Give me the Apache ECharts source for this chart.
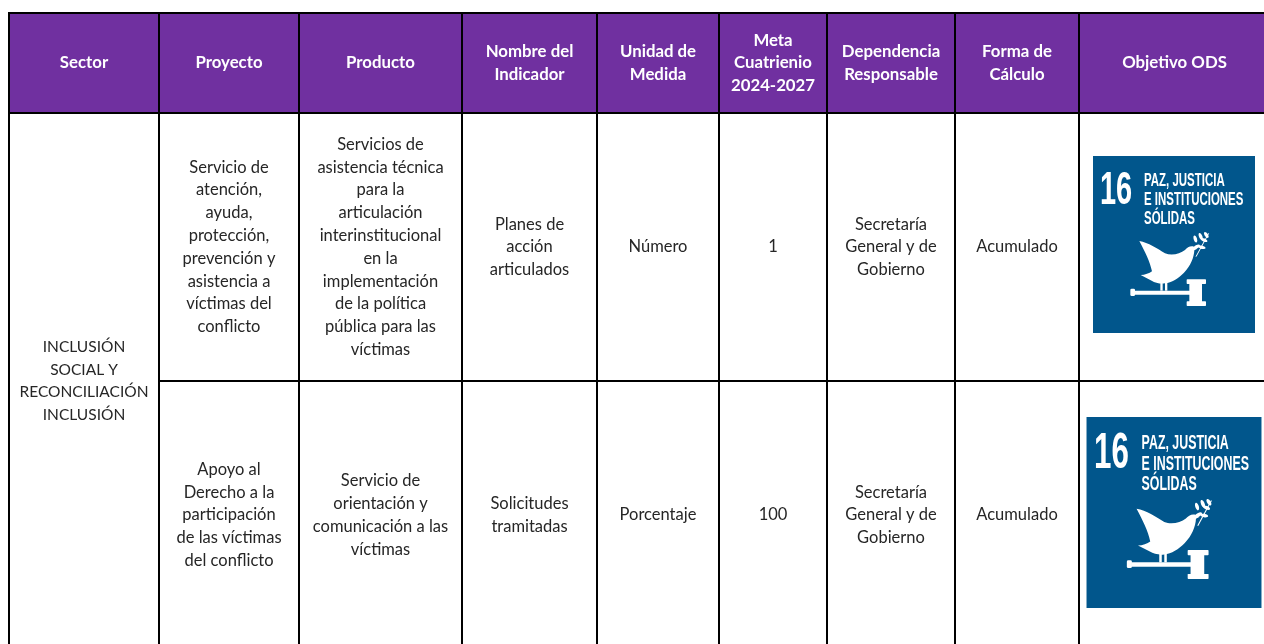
<!DOCTYPE html>
<html><head><meta charset="utf-8">
<style>html,body{margin:0;padding:0;background:#fff}#c{width:1264px;height:644px}</style>
<script src="https://cdn.jsdelivr.net/npm/echarts@6/dist/echarts.min.js"></script>
</head><body><div id="c"></div>
<script>
const columns = ['Sector','Proyecto','Producto','Nombre del\nIndicador','Unidad de\nMedida','Meta\nCuatrienio\n2024-2027','Dependencia\nResponsable','Forma de\nCálculo','Objetivo ODS'];
const rows = ['fila1','fila2'];
const sector = 'INCLUSIÓN\nSOCIAL Y\nRECONCILIACIÓN\nINCLUSIÓN';
const proyectos = ['Servicio de\natención,\nayuda,\nprotección,\nprevención y\nasistencia a\nvíctimas del\nconflicto','Apoyo al\nDerecho a la\nparticipación\nde las víctimas\ndel conflicto'];
const productos = ['Servicios de\nasistencia técnica\npara la\narticulación\ninterinstitucional\nen la\nimplementación\nde la política\npública para las\nvíctimas','Servicio de\norientación y\ncomunicación a las\nvíctimas'];
const indicadores = ['Planes de\nacción\narticulados','Solicitudes\ntramitadas'];
const unidades = ['Número','Porcentaje'];
const metas = ['1','100'];
const dependencias = ['Secretaría\nGeneral y de\nGobierno','Secretaría\nGeneral y de\nGobierno'];
const formas = ['Acumulado','Acumulado'];
const odsTitle = ['PAZ, JUSTICIA','E INSTITUCIONES','SÓLIDAS'];
const odsNumber = '16';

const colSizes = [150,140,163,135,122,108,128,124,191];
const FONT = 'Lato';
const el = echarts.init(document.getElementById('c'));

const body = [{coord:[0,[0,1]],mergeCells:true,value:sector,label:{fontSize:15.5}}];
[proyectos,productos,indicadores,unidades,metas,dependencias,formas].forEach((arr,ci)=>{
  arr.forEach((v,ri)=>body.push({coord:[ci+1,ri],value:v}));
});

const iconScale = [1,1.08];
const DOVE = 'M208 303C235 308 262 325 285 340C305 348 330 342 345 330C352 322 362 316 372 320L382 326L373 331C372 352 362 378 342 398C325 415 305 428 285 430C270 432 255 428 245 422L212 405C225 405 238 400 246 394C240 365 225 335 208 303Z';
function rc(x0,y0,x1,y1,r){return {type:'rect',shape:{x:x0,y:y0,width:x1-x0,height:y1-y0,r:r||0},style:{fill:'#fff'}};}
function leaf(cx,cy,rx,ry,rot){return {type:'ellipse',shape:{cx:0,cy:0,rx:rx,ry:ry},x:cx,y:cy,rotation:rot,style:{fill:'#fff'}};}
function txt(s,x,y,size,sx){return {type:'text',x:x,y:y,scaleX:sx,style:{text:s,fill:'#fff',font:'bold '+size+'px "Liberation Sans Narrow","Liberation Sans"',textVerticalAlign:'middle',textAlign:'left'}};}

function renderIcon(params,api){
  const c = api.coord([api.value(0),api.value(1)]);
  const s = iconScale[params.dataIndex];
  const w=162,h=177;
  return {type:'group',x:c[0]-0.5-w*s/2,y:c[1]-2.5-h*s/2,scaleX:s,scaleY:s,children:[
    {type:'rect',shape:{x:0,y:0,width:w,height:h},style:{fill:'#01568C'}},
    txt(odsNumber,7,35,46,0.63),
    txt(odsTitle[0],51,25,18.5,0.62),
    txt(odsTitle[1],51,44,18.5,0.62),
    txt(odsTitle[2],51,63,18.5,0.62),
    {type:'group',scaleX:1/3,scaleY:1/3,x:-23,y:-16,children:[
      {type:'path',shape:{pathData:DOVE},style:{fill:'#fff'}},
      rc(271,425,278,452),rc(285,425,292,452),
      rc(181,446,195,468,4),rc(193,452,360,464),rc(358,430,396,486),
      rc(350,418,408,432,2),rc(350,484,408,498,2),
      {type:'line',shape:{x1:378,y1:350,x2:416,y2:280},style:{stroke:'#fff',lineWidth:3}},
      leaf(376,297,5,11,0.3),leaf(392,289,5,11,0.4),leaf(409,285,5,10,0.6),
      leaf(380,320,11,5,0.5),leaf(402,300,11,5,-0.4),leaf(396,322,11,5,-0.2)
    ]}
  ]};
}

el.setOption({
  animation:false,
  matrix:{
    left:9,top:13,right:-6,bottom:-5,
    x:{
      levelSize:100,
      data:columns.map((c,i)=>({value:c,size:colSizes[i]})),
      label:{color:'#fff',fontFamily:FONT,fontWeight:'bold',fontSize:16.8,lineHeight:22.8,align:'center',verticalAlign:'middle',overflow:'none',offset:[0,1.5]},
      itemStyle:{color:'#7030A0',borderColor:'#000',borderWidth:2},
      dividerLineStyle:{color:'#000',width:2}
    },
    y:{show:false,data:rows},
    corner:{show:false},
    body:{
      data:body,
      label:{color:'#262626',fontFamily:FONT,fontSize:16.5,lineHeight:22.8,align:'center',verticalAlign:'middle',overflow:'none',offset:[0,1.5]},
      itemStyle:{color:'#fff',borderColor:'#000',borderWidth:2}
    },
    backgroundStyle:{color:'#fff',borderWidth:0}
  },
  series:[{type:'custom',coordinateSystem:'matrix',renderItem:renderIcon,silent:true,z:5,
    encode:{x:0,y:1},
    data:rows.map(r=>[columns[8],r])}]
});
</script></body></html>
